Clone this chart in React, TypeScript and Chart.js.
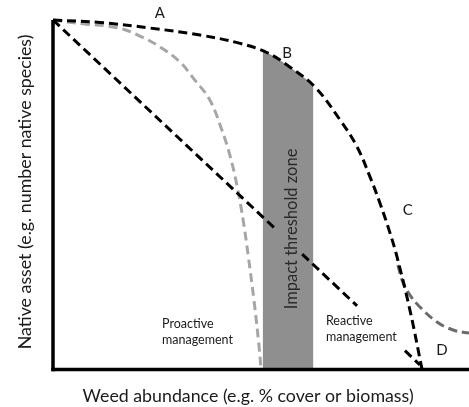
import React, { useEffect, useRef } from "react";
import { Chart, registerables } from "chart.js";

Chart.register(...registerables);

// Curve A-B-C-D (black dashed, no management)
const curveX = [0, 11.3, 23.3, 35.3, 45.0, 51.4, 57.0, 63.0, 69.0, 73.1, 76.2, 78.6, 81.0, 82.7, 85.8, 88.7];
const curveY = [100, 99.3, 97.7, 95.7, 93.3, 90.7, 86.5, 80.8, 71.4, 63.7, 55.1, 47.6, 39.1, 32.2, 17.0, 0.1];

// Impact threshold zone (band under the curve)
const bandX = [50.4, 51.4, 54.2, 57.0, 60.0, 62.6];
const bandY = [91.1, 90.7, 88.8, 86.5, 83.8, 81.3];

// Proactive management (light gray dashed)
const proX = [0, 7.2, 15.4, 20.9, 25.7, 30.5, 34.1, 37.7, 40.6, 42.5, 44.2, 45.7, 46.9, 48.3, 49.5, 50.0];
const proY = [100, 98.9, 97.8, 95.4, 92.3, 88.0, 82.8, 77.1, 68.5, 61.4, 52.8, 42.8, 32.8, 19.9, 7.0, 0.1];

// Reactive management (dark gray dashed, from C)
const reX = [82.9, 84.1, 85.8, 88.2, 92.3, 96.2, 100];
const reY = [29.9, 25.0, 21.3, 17.9, 13.6, 11.3, 10.4];

// Linear decline (black dashed straight line, drawn in pieces)
const linX = [0, 53.4, NaN, 59.9, 73.1, NaN, 84.6, 88.2];
const linY = [100, 40.3, NaN, 33.0, 18.2, NaN, 5.4, 1.3];

const xTitle = "Weed abundance (e.g. % cover or biomass)";
const yTitle = "Native asset (e.g. number native species)";
const zoneLabel = "Impact threshold zone";
const pointLabels = ["A", "B", "C", "D"];
const pointLabelX = [25.7, 56.3, 85.3, 93.5];
const pointLabelY = [102.0, 90.6, 45.6, 5.6];
const mgmtLabels = [["Proactive", "management"], ["Reactive", "management"]];
const mgmtLabelX = [26.2, 65.6];
const mgmtLabelY = [13.0, 13.8];

const FONT = "Lato, 'Open Sans', sans-serif";

const toPts = (xs: number[], ys: number[]) =>
  xs.map((x, i) => ({ x: isNaN(x) ? null : x, y: isNaN(ys[i]) ? null : ys[i] }));

const overlay = {
  id: "overlay",
  afterDatasetsDraw(chart: any) {
    const { ctx, chartArea, scales } = chart;
    const xs = scales.x;
    const ys = scales.y;
    ctx.save();
    // axes
    ctx.strokeStyle = "#000";
    ctx.lineWidth = 3.5;
    ctx.beginPath();
    ctx.moveTo(chartArea.left, chartArea.top);
    ctx.lineTo(chartArea.left, chartArea.bottom + 1.75);
    ctx.stroke();
    ctx.beginPath();
    ctx.moveTo(chartArea.left - 1.75, chartArea.bottom);
    ctx.lineTo(chart.width, chartArea.bottom);
    ctx.stroke();

    ctx.fillStyle = "#1a1a1a";
    ctx.textAlign = "center";
    ctx.textBaseline = "middle";
    // x title
    ctx.font = `17.8px ${FONT}`;
    ctx.fillText(xTitle, xs.getPixelForValue(46.9), 396);
    // y title
    ctx.save();
    ctx.translate(25, ys.getPixelForValue(50.8));
    ctx.rotate(-Math.PI / 2);
    ctx.fillText(yTitle, 0, 0);
    ctx.restore();
    // zone label
    ctx.save();
    ctx.fillStyle = "#2a2a2a";
    ctx.font = `16.5px ${FONT}`;
    ctx.translate(xs.getPixelForValue(57.4), ys.getPixelForValue(40.2));
    ctx.rotate(-Math.PI / 2);
    ctx.fillText(zoneLabel, 0, 0);
    ctx.restore();
    // point labels
    ctx.font = `15px ${FONT}`;
    pointLabels.forEach((t, i) => {
      ctx.fillText(t, xs.getPixelForValue(pointLabelX[i]), ys.getPixelForValue(pointLabelY[i]));
    });
    // management labels
    ctx.font = `12.5px ${FONT}`;
    ctx.textAlign = "left";
    mgmtLabels.forEach((lines, i) => {
      const px = xs.getPixelForValue(mgmtLabelX[i]);
      const py = ys.getPixelForValue(mgmtLabelY[i]);
      lines.forEach((l, j) => ctx.fillText(l, px, py + j * 15.5));
    });
    ctx.restore();
  },
};

export default function App() {
  const ref = useRef<HTMLCanvasElement | null>(null);
  useEffect(() => {
    if (!ref.current) return;
    const dash = [9, 5];
    const chart = new Chart(ref.current, {
      type: "scatter",
      data: {
        datasets: [
          {
            data: toPts(bandX, bandY),
            showLine: true,
            borderWidth: 0,
            backgroundColor: "#8f8f8f",
            borderColor: "rgba(0,0,0,0)",
            fill: "origin",
            pointRadius: 0,
            tension: 0.4,
            order: 10,
            clip: false,
          } as any,
          {
            data: toPts(proX, proY),
            showLine: true,
            borderColor: "#a6a6a6",
            borderWidth: 3,
            borderDash: dash,
            pointRadius: 0,
            tension: 0.4,
            order: 3,
            clip: false,
          } as any,
          {
            data: toPts(reX, reY),
            showLine: true,
            borderColor: "#6b6b6b",
            borderWidth: 3,
            borderDash: dash,
            pointRadius: 0,
            tension: 0.4,
            order: 2,
            clip: false,
          } as any,
          {
            data: toPts(linX, linY),
            showLine: true,
            borderColor: "#000",
            borderWidth: 3,
            borderDash: dash,
            pointRadius: 0,
            spanGaps: false,
            order: 1,
            clip: false,
          } as any,
          {
            data: toPts(curveX, curveY),
            showLine: true,
            borderColor: "#000",
            borderWidth: 3,
            borderDash: dash,
            pointRadius: 0,
            tension: 0.4,
            order: 0,
            clip: false,
          } as any,
        ],
      },
      options: {
        animation: false,
        responsive: true,
        maintainAspectRatio: false,
        layout: { padding: { left: 53, right: 0, top: 20, bottom: 37.5 } },
        plugins: { legend: { display: false }, tooltip: { enabled: false } },
        events: [],
        scales: {
          x: { type: "linear", min: 0, max: 100, display: false },
          y: { type: "linear", min: 0, max: 100, display: false },
        },
      },
      plugins: [overlay],
    });
    return () => chart.destroy();
  }, []);
  return (
    <div style={{ position: "absolute", left: 0, top: 0, width: 469, height: 407, background: "#fff" }}>
      <canvas ref={ref} />
    </div>
  );
}
